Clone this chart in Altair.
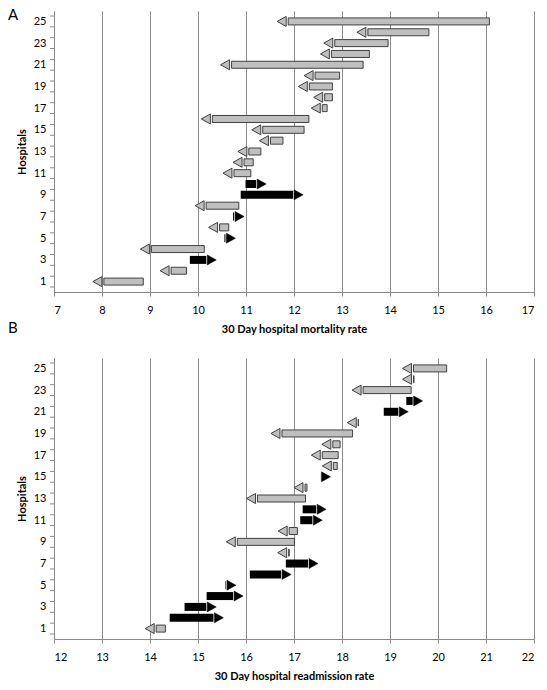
import altair as alt
import pandas as pd

hospitals = list(range(1, 26))

mort_start = [8.86, 9.76, 9.83, 10.13, 10.55, 10.64, 10.73, 10.85, 10.89, 10.99,
              11.10, 11.15, 11.31, 11.77, 12.21, 12.31, 12.69, 12.80, 12.80, 12.95,
              13.44, 13.57, 13.96, 14.81, 16.07]
mort_end = [7.81, 9.21, 10.38, 8.80, 10.78, 10.22, 10.96, 9.94, 12.19, 11.42,
            10.52, 10.73, 10.83, 11.28, 11.12, 10.07, 12.36, 12.41, 12.09, 12.21,
            10.47, 12.55, 12.62, 13.31, 11.65]

read_start = [14.32, 14.41, 14.72, 15.18, 15.57, 16.08, 16.83, 16.90, 17.01, 17.07,
              17.13, 17.18, 17.24, 17.27, 17.55, 17.90, 17.92, 17.96, 18.22, 18.34,
              18.87, 19.34, 19.44, 19.50, 20.18]
read_end = [13.90, 15.53, 15.38, 15.94, 15.79, 16.94, 17.50, 16.66, 15.59, 16.67,
            17.59, 17.67, 16.01, 17.00, 17.76, 17.59, 17.36, 17.58, 16.52, 18.11,
            19.38, 19.68, 18.21, 19.26, 19.26]

mort_ticks = list(range(7, 18))
read_ticks = list(range(12, 23))
hospital_labels = hospitals[::2]
panel_labels = ["A", "B"]

FONT = "Lato"
W, H = 480, 281
GRID = "#8a8a8a"
GREY = "#BFBFBF"
EDGE = "#404040"

RIGHT_HEAD = "M0,0L-1.8,-1L-1.8,1Z"
LEFT_HEAD = "M0,0L1.8,-1L1.8,1Z"


def panel(start, end, ticks, xtitle, labels):
    df = pd.DataFrame({"hospital": hospitals, "start": start, "end": end})
    df["dir"] = ["up" if e > s else "down" for s, e in zip(start, end)]
    xs = alt.Scale(domain=[ticks[0], ticks[-1]], nice=False, zero=False)
    ys = alt.Scale(domain=[0.5, 25.5], nice=False, zero=False)
    xaxis = alt.Axis(values=ticks, tickCount=30, format="d", title=xtitle, grid=True,
                     gridColor=GRID, gridWidth=1, domainColor=GRID, tickColor=GRID,
                     tickSize=4, labelFont=FONT, labelFontSize=11, labelColor="#000",
                     labelPadding=8, labelOverlap=False,
                     titleFont=FONT, titleFontSize=11,
                     titleFontWeight="bold", titleColor="#000", titlePadding=8)
    yaxis = alt.Axis(values=hospital_labels, tickCount=30, format="d",
                     title="Hospitals", grid=False, labelOverlap=False, ticks=False,
                     domainColor=GRID, labelFont=FONT, labelFontSize=11,
                     labelColor="#000", labelPadding=8, titleFont=FONT,
                     titleFontSize=11, titleFontWeight="bold", titleColor="#000",
                     titlePadding=6)
    base = alt.Chart(df)
    down = base.transform_filter("datum.dir == 'down'")
    up = base.transform_filter("datum.dir == 'up'")

    bars_down = down.mark_bar(orient="horizontal", size=7, fill=GREY, stroke=EDGE,
                              strokeWidth=1, x2Offset=11).encode(
        x=alt.X("start:Q", scale=xs, axis=xaxis),
        x2="end:Q",
        y=alt.Y("hospital:Q", scale=ys, axis=yaxis),
    )
    bars_up = up.mark_bar(orient="horizontal", size=8, fill="#000000",
                          x2Offset=-10).encode(
        x="start:Q", x2="end:Q", y="hospital:Q")
    head_down = down.mark_point(shape=LEFT_HEAD, size=100, filled=True, fill=GREY,
                                stroke=EDGE, strokeWidth=1, opacity=1).encode(
        x="end:Q", y="hospital:Q")
    head_up = up.mark_point(shape=RIGHT_HEAD, size=100, filled=True, fill="#000000",
                            stroke="#000000", strokeWidth=0.5, opacity=1).encode(
        x="end:Q", y="hospital:Q")

    # category boundary tick marks on the y axis (between hospitals)
    ytick = alt.Chart(pd.DataFrame({"hospital": [0] + hospitals})).transform_calculate(
        edge="datum.hospital + 0.5"
    ).mark_rule(color=GRID, strokeWidth=1).encode(
        y="edge:Q", x=alt.value(-4), x2=alt.value(0))

    layers = [bars_down, ytick, bars_up, head_down, head_up]
    for text, ypix in labels:
        lab = alt.Chart(pd.DataFrame({"t": [text]})).mark_text(
            font=FONT, fontSize=15, align="left", baseline="top", color="#000"
        ).encode(text="t:N", x=alt.value(-46), y=alt.value(ypix))
        layers.append(lab)
    return alt.layer(*layers).properties(width=W, height=H)


top = panel(mort_start, mort_end, mort_ticks, "30 Day hospital mortality rate",
            [(panel_labels[0], -3), (panel_labels[1], 310)])
bottom = panel(read_start, read_end, read_ticks, "30 Day hospital readmission rate", [])

chart = alt.vconcat(top, bottom, spacing=22).properties(
    padding={"left": 0, "top": 0, "right": 0, "bottom": 0}
).configure_view(stroke=None)

chart.save("out.html", embed_options={"renderer": "svg", "actions": False})
